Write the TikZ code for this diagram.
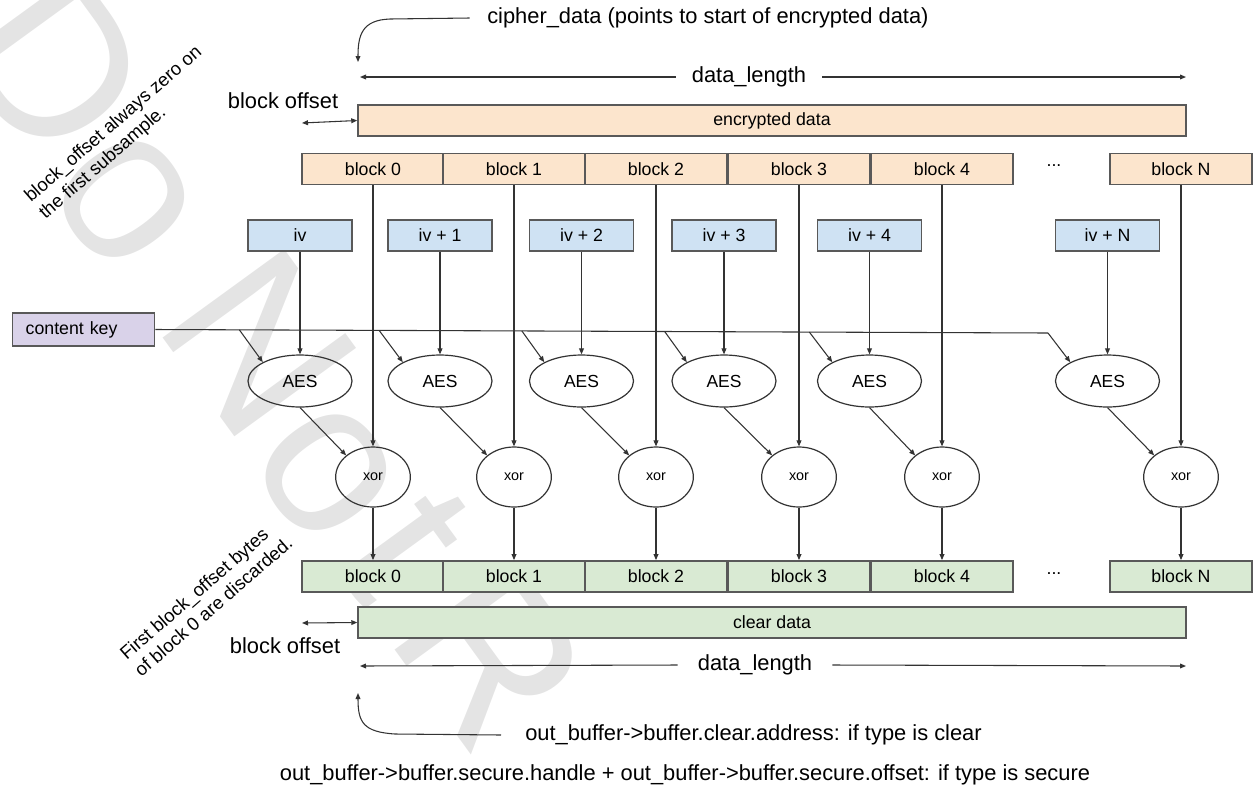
\documentclass[tikz,border=0pt]{standalone}
\usepackage{fontspec}
\setmainfont{Liberation Sans}
\usetikzlibrary{shapes.geometric,arrows.meta}

\definecolor{encfill}{RGB}{252,229,205}
\definecolor{ivfill}{RGB}{207,226,243}
\definecolor{keyfill}{RGB}{217,210,233}
\definecolor{clrfill}{RGB}{217,234,211}
\definecolor{boxline}{RGB}{89,89,89}
\definecolor{arrline}{RGB}{51,51,51}
\definecolor{wmark}{RGB}{228,228,228}

\begin{document}
\begin{tikzpicture}[x=0.75pt,y=0.75pt,yscale=-1,xscale=1,
	>={Triangle[length=4.5pt,width=3.6pt]},
	box/.style={draw=boxline, line width=1.1pt, inner sep=0pt, minimum height=23.5pt, font=\fontsize{13.3}{16}\selectfont},
	blk/.style={box, minimum width=106.5pt},
	wide/.style={box, minimum width=621pt},
	ivbox/.style={box, fill=ivfill, minimum width=78pt},
	aes/.style={ellipse, draw=arrline, line width=0.9pt, inner sep=0pt, minimum width=78pt, minimum height=39pt, font=\fontsize{13.1}{16}\selectfont},
	xorn/.style={ellipse, draw=arrline, line width=0.9pt, inner sep=0pt, minimum width=56pt, minimum height=45pt, font=\fontsize{10.8}{13}\selectfont},
	lbl/.style={font=\fontsize{16.4}{19}\selectfont, inner sep=0pt},
	note/.style={font=\fontsize{13.9}{16.5}\selectfont, align=left, rotate=41, inner sep=0pt},
	wire/.style={draw=arrline, line width=0.8pt},
	wm/.style={rotate=-54, inner sep=0pt, text=wmark, font=\fontsize{164}{164}\selectfont},
	]
	\useasboundingbox (0,0) rectangle (1254,790);

	% Watermark letters
	\node[wm] (wm1) at (55,65) {D};
	\node[wm] (wm2) at (124,200) {o};
	\node[wm] (wm3) at (260,343) {N};
	\node[wm] (wm4) at (326,473) {o};
	\node[wm] (wm5) at (405,545) {t};
	\node[wm] (wm6) at (492,655) {R};

	%Shape: encrypted side
	\node[wide, fill=encfill] (enc) at (772,120.5) {encrypted data};
	\node[blk, fill=encfill] (tb0) at (373,169) {block 0};
	\node[blk, fill=encfill] (tb1) at (514,169) {block 1};
	\node[blk, fill=encfill] (tb2) at (656,169) {block 2};
	\node[blk, fill=encfill] (tb3) at (799,169) {block 3};
	\node[blk, fill=encfill] (tb4) at (942,169) {block 4};
	\node[font=\fontsize{13.3}{16}\selectfont] (tdots) at (1054,166) {...};
	\node[blk, fill=encfill] (tbN) at (1181,169) {block N};

	%Shape: counters
	\node[ivbox] (iv0) at (300,235.5) {iv};
	\node[ivbox] (iv1) at (440,235.5) {iv + 1};
	\node[ivbox] (iv2) at (581.5,235.5) {iv + 2};
	\node[ivbox] (iv3) at (724,235.5) {iv + 3};
	\node[ivbox] (iv4) at (869.5,235.5) {iv + 4};
	\node[ivbox] (ivN) at (1107.5,235.5) {iv + N};

	%Shape: key
	\node[box, fill=keyfill, anchor=west, text width=87pt, align=left, inner xsep=9.75pt, minimum height=24.75pt] (ck) at (12,329.5) {content key};

	%Shape: AES ellipses
	\node[aes] (aes0) at (300,381) {AES};
	\node[aes] (aes1) at (440,381) {AES};
	\node[aes] (aes2) at (581.5,381) {AES};
	\node[aes] (aes3) at (724,381) {AES};
	\node[aes] (aes4) at (869.5,381) {AES};
	\node[aes] (aesN) at (1107.5,381) {AES};

	%Shape: xor ellipses
	\node[xorn] (xr0) at (373,477) {xor};
	\node[xorn] (xr1) at (514,477) {xor};
	\node[xorn] (xr2) at (656,477) {xor};
	\node[xorn] (xr3) at (799,477) {xor};
	\node[xorn] (xr4) at (942,477) {xor};
	\node[xorn] (xrN) at (1181,477) {xor};

	%Shape: clear side
	\node[blk, fill=clrfill] (bb0) at (373,576.5) {block 0};
	\node[blk, fill=clrfill] (bb1) at (514,576.5) {block 1};
	\node[blk, fill=clrfill] (bb2) at (656,576.5) {block 2};
	\node[blk, fill=clrfill] (bb3) at (799,576.5) {block 3};
	\node[blk, fill=clrfill] (bb4) at (942,576.5) {block 4};
	\node[font=\fontsize{13.3}{16}\selectfont] (bdots) at (1054,574) {...};
	\node[blk, fill=clrfill] (bbN) at (1181,576.5) {block N};
	\node[wide, fill=clrfill] (clr) at (772,622.5) {clear data};

	% Key line
	\coordinate (kN) at (1048,333);
	\draw[wire] (ck.east) -- (kN) coordinate[pos=0.094] (k0) coordinate[pos=0.2506] (k1) coordinate[pos=0.4105] (k2) coordinate[pos=0.5705] (k3) coordinate[pos=0.7326] (k4);
	\draw[wire,->] (k0) -- (aes0.north west);
	\draw[wire,->] (k1) -- (aes1.north west);
	\draw[wire,->] (k2) -- (aes2.north west);
	\draw[wire,->] (k3) -- (aes3.north west);
	\draw[wire,->] (k4) -- (aes4.north west);
	\draw[wire,->] (kN) -- (aesN.north west);

	% iv to AES
	\draw[wire,->] (iv0) -- (aes0);
	\draw[wire,->] (iv1) -- (aes1);
	\draw[wire,->] (iv2) -- (aes2);
	\draw[wire,->] (iv3) -- (aes3);
	\draw[wire,->] (iv4) -- (aes4);
	\draw[wire,->] (ivN) -- (aesN);

	% AES to xor
	\draw[wire,->] (aes0.south) -- (xr0.north west);
	\draw[wire,->] (aes1.south) -- (xr1.north west);
	\draw[wire,->] (aes2.south) -- (xr2.north west);
	\draw[wire,->] (aes3.south) -- (xr3.north west);
	\draw[wire,->] (aes4.south) -- (xr4.north west);
	\draw[wire,->] (aesN.south) -- (xrN.north west);

	% blocks through xor
	\draw[wire,->] (tb0) -- (xr0);
	\draw[wire,->] (tb1) -- (xr1);
	\draw[wire,->] (tb2) -- (xr2);
	\draw[wire,->] (tb3) -- (xr3);
	\draw[wire,->] (tb4) -- (xr4);
	\draw[wire,->] (tbN) -- (xrN);
	\draw[wire,->] (xr0) -- (bb0);
	\draw[wire,->] (xr1) -- (bb1);
	\draw[wire,->] (xr2) -- (bb2);
	\draw[wire,->] (xr3) -- (bb3);
	\draw[wire,->] (xr4) -- (bb4);
	\draw[wire,->] (xrN) -- (bbN);

	% Text Node
	\node[lbl, anchor=west] (cd) at (487,18) {cipher\_data (points to start of encrypted data)};
	\coordinate (cdp) at (358,62);
	\draw[wire,->] ([xshift=-13pt]cd.west) -- (390,19) .. controls (362,20) and (358,35) .. (cdp);

	% Text Node
	\node[lbl, inner xsep=12pt] (dl1) at (749,77) {data\_length};
	\coordinate (dl1a) at (360,77);
	\coordinate (dl1b) at (1186,77);
	\draw[wire,->] (dl1.west) -- (dl1a);
	\draw[wire,->] (dl1.east) -- (dl1b);

	% Text Node
	\node[lbl] (bol1) at (283,101) {block offset};
	\coordinate (bo1) at (302,123);
	\draw[wire,<->] (bo1) -- (enc.west);

	% Text Node
	\node[lbl] (bol2) at (285,646) {block offset};
	\coordinate (bo2) at (302,623);
	\draw[wire,<->] (bo2) -- (clr.west);

	% Text Node
	\node[lbl, inner xsep=15pt] (dl2) at (755,665) {data\_length};
	\coordinate (dl2a) at (360,666);
	\coordinate (dl2b) at (1186,666);
	\draw[wire,->] (dl2.west) -- (dl2a);
	\draw[wire,->] (dl2.east) -- (dl2b);

	% Text Node
	\node[lbl, anchor=west] (ob1) at (525,735) {out\_buffer->buffer.clear.address: if type is clear};
	\coordinate (obp) at (358,693);
	\draw[wire,->] ([xshift=-18pt]ob1.west) -- (395,734) .. controls (363,732) and (358,722) .. (obp);
	% Text Node
	\node[lbl] (ob2) at (685,775) {out\_buffer->buffer.secure.handle + out\_buffer->buffer.secure.offset: if type is secure};

	% Text Node
	\node[note] (nt1) at (121,133) {block\_offset always zero on\\the first subsample.};
	% Text Node
	\node[note] (nt2) at (206,598) {First block\_offset bytes\\of block 0 are discarded.};
\end{tikzpicture}
\end{document}
